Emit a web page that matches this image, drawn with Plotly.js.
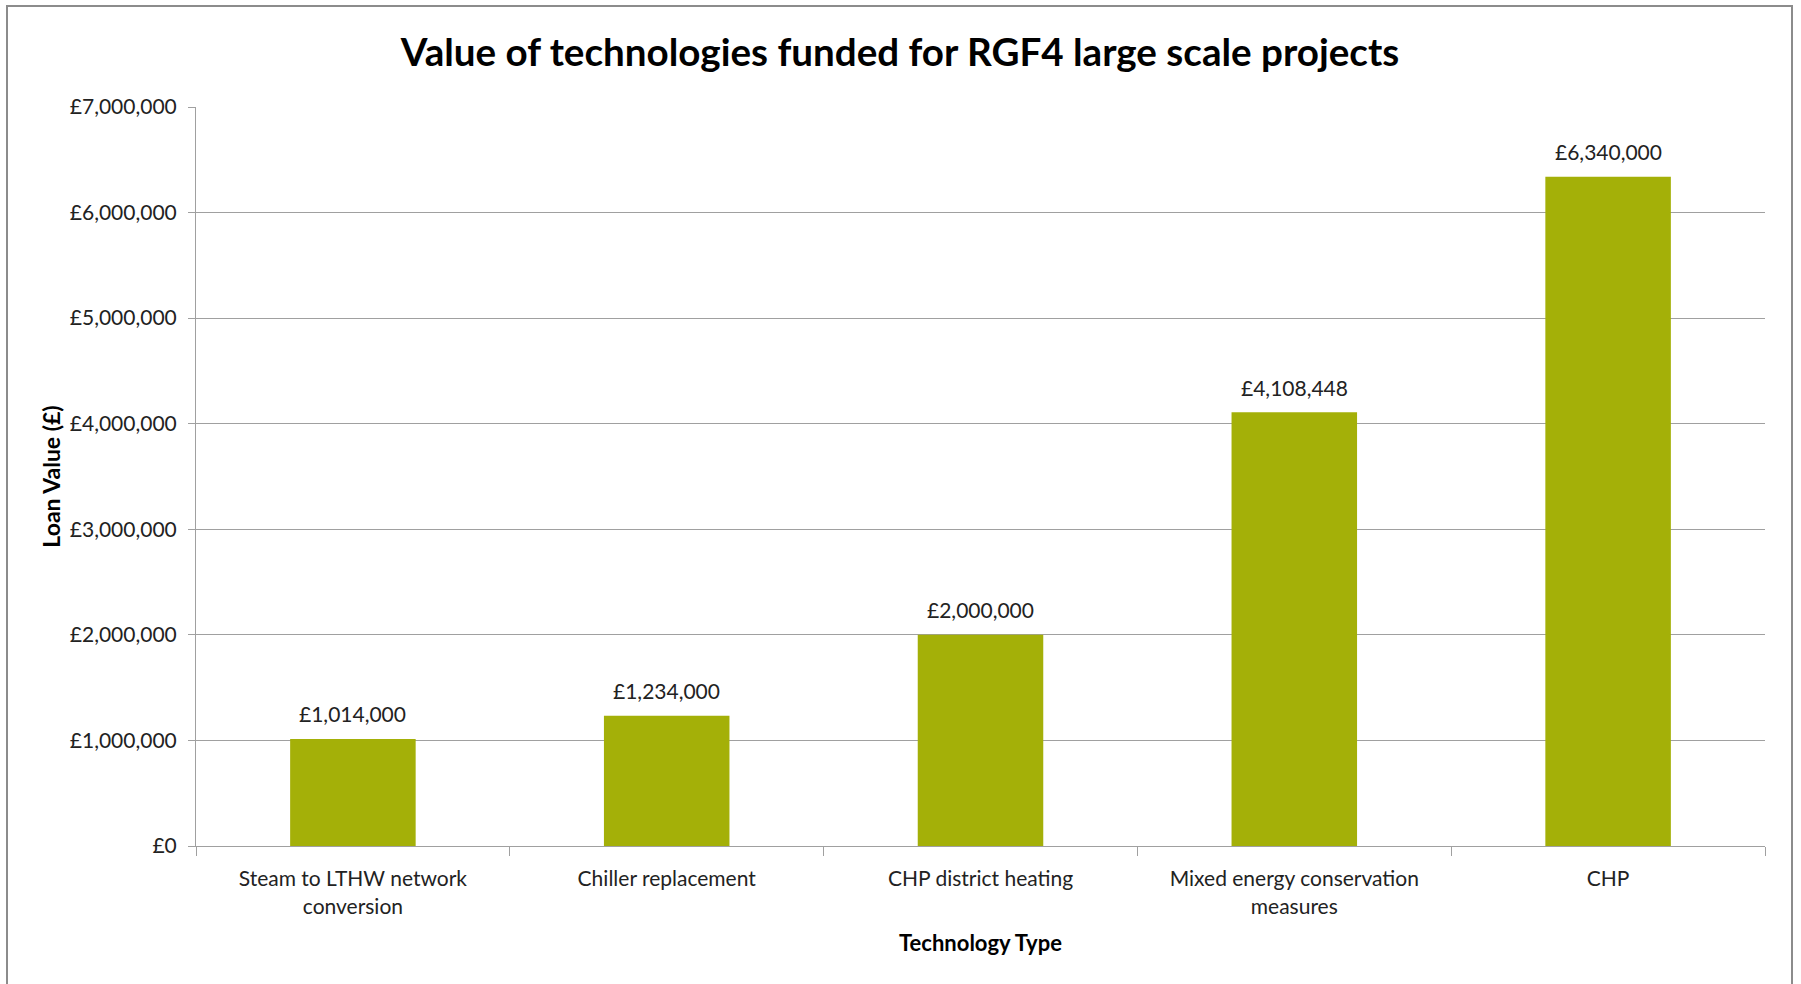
<!DOCTYPE html>
<html>
<head>
<meta charset="utf-8">
<script src="https://cdn.plot.ly/plotly-3.0.1.min.js"></script>
<style>
  html, body { margin: 0; padding: 0; background: #ffffff; }
  #chart { width: 1801px; height: 984px; }
</style>
</head>
<body>
<div id="chart"></div>
<script>
// Data
const categories = [
  "Steam to LTHW network<br>conversion",
  "Chiller replacement",
  "CHP district heating",
  "Mixed energy conservation<br>measures",
  "CHP"
];
const loanValues = [1014000, 1234000, 2000000, 4108448, 6340000];
const dataLabels = ["£1,014,000", "£1,234,000", "£2,000,000", "£4,108,448", "£6,340,000"];
const yTickValues = [0, 1000000, 2000000, 3000000, 4000000, 5000000, 6000000, 7000000];
const yTickLabels = ["£0", "£1,000,000", "£2,000,000", "£3,000,000", "£4,000,000", "£5,000,000", "£6,000,000", "£7,000,000"];

const FONT = "Lato, 'Open Sans', 'DejaVu Sans', sans-serif";
const GRID = "#a0a0a0";
const TXT = "#222222";

const trace = {
  type: "bar",
  x: categories,
  y: loanValues,
  marker: { color: "#a4b008", line: { width: 0 } },
  hoverinfo: "x+y",
  showlegend: false
};

const annotations = categories.map((c, i) => ({
  x: c, y: loanValues[i], xref: "x", yref: "y",
  text: dataLabels[i], showarrow: false,
  yanchor: "middle", yshift: 25,
  font: { family: FONT, size: 21, color: TXT }
}));

const layout = {
  width: 1801, height: 984,
  margin: { l: 196, r: 36, t: 107, b: 138, autoexpand: false },
  paper_bgcolor: "#ffffff",
  plot_bgcolor: "#ffffff",
  bargap: 0.6,
  font: { family: FONT, color: TXT },
  title: {
    text: "<b>Value of technologies funded for RGF4 large scale projects</b>",
    font: { family: FONT, size: 38.6, color: "#000000" },
    x: 900 / 1801, xref: "container", xanchor: "center",
    y: 1 - 52 / 984, yref: "container", yanchor: "middle"
  },
  xaxis: {
    type: "category",
    tickson: "boundaries",
    ticks: "outside", ticklen: 9, tickwidth: 1, tickcolor: GRID,
    showline: true, linecolor: GRID, linewidth: 1,
    showgrid: false,
    tickfont: { family: FONT, size: 21, color: TXT },
    ticklabelstandoff: 14,
    automargin: false,
    title: {
      text: "<b>Technology Type</b>",
      font: { family: FONT, size: 22, color: "#000000" },
      standoff: 19
    }
  },
  yaxis: {
    range: [0, 7000000],
    tickvals: yTickValues,
    ticktext: yTickLabels,
    ticks: "outside", ticklen: 7, tickwidth: 1, tickcolor: GRID,
    showline: true, linecolor: GRID, linewidth: 1,
    showgrid: true, gridcolor: GRID, gridwidth: 1,
    zeroline: false,
    tickfont: { family: FONT, size: 21, color: TXT },
    ticklabelstandoff: 7,
    automargin: false,
    title: {
      text: "<b>Loan Value (£)</b>",
      font: { family: FONT, size: 23, color: "#000000" },
      standoff: 2
    }
  },
  annotations: annotations,
  shapes: [{
    type: "rect", xref: "paper", yref: "paper",
    x0: (7 - 196) / 1569, x1: (1792 - 196) / 1569,
    y0: (846 - 1010) / 739, y1: (846 - 6) / 739,
    line: { color: "#8c8c8c", width: 2 },
    fillcolor: "rgba(0,0,0,0)",
    layer: "above"
  }]
};

Plotly.newPlot("chart", [trace], layout, { displayModeBar: false, responsive: false });
</script>
</body>
</html>
